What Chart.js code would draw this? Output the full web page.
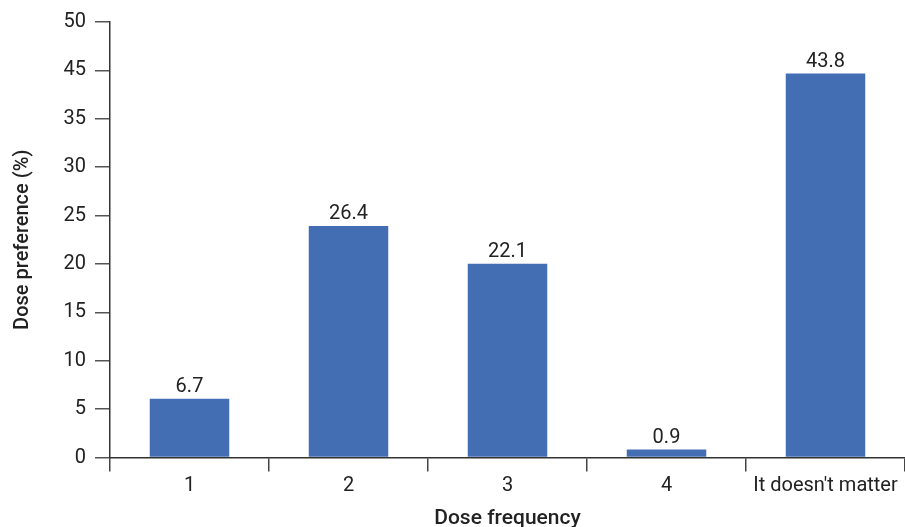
<!DOCTYPE html>
<html>
<head>
<meta charset="utf-8">
<script src="https://cdn.jsdelivr.net/npm/chart.js@4.4.1/dist/chart.umd.min.js"></script>
<style>
  html, body { margin: 0; padding: 0; background: #fff; }
  #wrap { width: 905px; height: 527px; }
</style>
</head>
<body>
<div id="wrap"><canvas id="c" width="905" height="527"></canvas></div>
<script>
// ── DATA ──────────────────────────────────
const categories = ['1', '2', '3', '4', "It doesn't matter"];
const values     = [6.7, 26.4, 22.1, 0.9, 43.8];
const valueText  = ['6.7', '26.4', '22.1', '0.9', '43.8'];
// the printed axis skips 40 and is evenly spaced, so each step is wider than 5
const tickLabels = ['0', '5', '10', '15', '20', '25', '30', '35', '45', '50'];
const tickStep   = 5.52;

const FONT = 'Roboto, "Noto Sans", sans-serif';
const INK  = '#222';

// ── VALUE LABELS ──────────────────────────
const barText = {
  id: 'barText',
  afterDatasetsDraw(chart) {
    const ctx = chart.ctx;
    const meta = chart.getDatasetMeta(0);
    ctx.save();
    ctx.font = '20px ' + FONT;
    ctx.fillStyle = INK;
    ctx.textAlign = 'center';
    ctx.textBaseline = 'alphabetic';
    meta.data.forEach((bar, i) => {
      ctx.fillText(valueText[i], bar.x, bar.y - 7);
    });
    ctx.restore();
  }
};

// ── CHART ─────────────────────────────────
new Chart(document.getElementById('c'), {
  type: 'bar',
  data: {
    labels: categories,
    datasets: [{
      data: values,
      backgroundColor: '#446EB4',
      barPercentage: 0.5,
      categoryPercentage: 1
    }]
  },
  options: {
    responsive: false,
    animation: false,
    layout: { padding: { top: 22, right: 0, left: 0, bottom: 0 } },
    plugins: { legend: { display: false }, tooltip: { enabled: false } },
    scales: {
      x: {
        afterFit(scale) { scale.height = 69.5; },
        grid: { display: true, drawOnChartArea: false, drawTicks: true, tickLength: 14, color: '#444', lineWidth: 1.5, offset: true },
        border: { display: true, color: '#333', width: 1.5 },
        ticks: { color: INK, font: { size: 20, family: FONT }, padding: 2, maxRotation: 0, autoSkip: false },
        title: { display: true, text: 'Dose frequency', color: INK, font: { size: 21, family: FONT, weight: '500' }, padding: { top: 0, bottom: -4 } }
      },
      y: {
        min: 0,
        max: tickStep * (tickLabels.length - 1),
        afterBuildTicks(scale) {
          scale.ticks = tickLabels.map((t, i) => ({ value: i * tickStep }));
        },
        afterFit(scale) { scale.width = 110; },
        grid: { display: true, drawOnChartArea: false, drawTicks: true, tickLength: 15, color: '#555', lineWidth: 1.5 },
        border: { display: true, color: '#333', width: 1.5 },
        ticks: {
          color: INK, font: { size: 20, family: FONT }, padding: 9,
          callback: (v, i) => tickLabels[i]
        },
        title: { display: true, text: 'Dose preference (%)', color: INK, font: { size: 20, family: FONT, weight: '500' }, padding: { top: 11, bottom: 0 } }
      }
    }
  },
  plugins: [barText]
});
</script>
</body>
</html>
